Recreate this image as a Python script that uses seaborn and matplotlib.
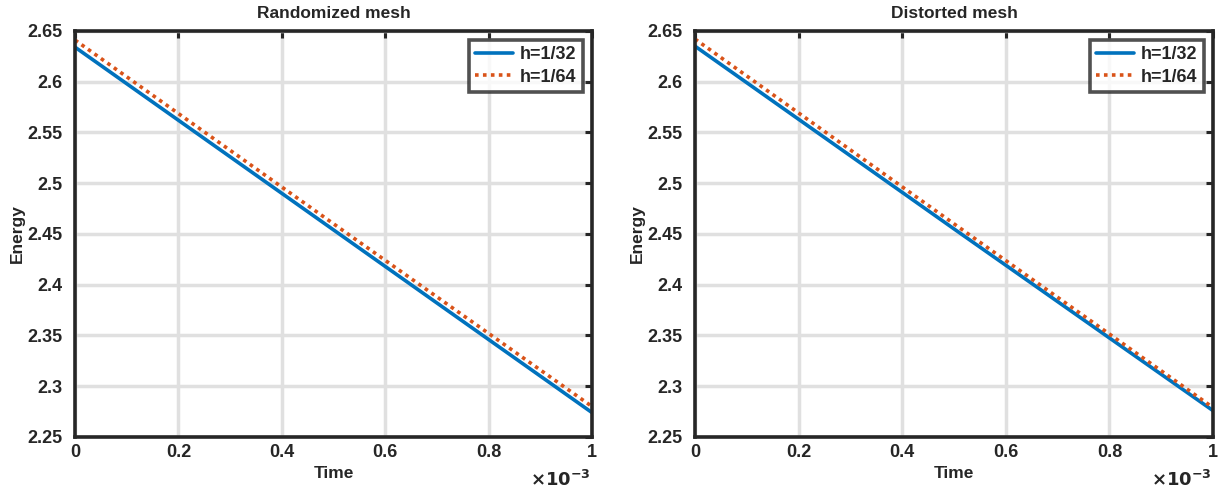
import numpy as np
import pandas as pd
import matplotlib
matplotlib.use("Agg")
import matplotlib.pyplot as plt
import seaborn as sns
from matplotlib.ticker import FuncFormatter, MultipleLocator

# values
time = [0.0, 0.5e-3, 1.0e-3]
rand_h32 = [2.634, 2.454, 2.274]
rand_h64 = [2.641, 2.460, 2.280]
dist_h32 = [2.635, 2.455, 2.276]
dist_h64 = [2.642, 2.460, 2.279]
titles = ["Randomized mesh", "Distorted mesh"]
labels = ["h=1/32", "h=1/64"]

sns.set_style("white")
plt.rcParams["font.family"] = ["Liberation Sans", "DejaVu Sans"]
plt.rcParams["font.weight"] = "bold"
plt.rcParams["axes.labelweight"] = "bold"
plt.rcParams["axes.titleweight"] = "bold"

fig = plt.figure(figsize=(12.24, 4.91), dpi=100)
ax1 = fig.add_axes([0.0613, 0.110, 0.4224, 0.827])
ax2 = fig.add_axes([0.5678, 0.110, 0.4232, 0.827])

blue = "#0072BD"
orange = "#D95319"

for ax, title, y32, y64 in [(ax1, titles[0], rand_h32, rand_h64),
                            (ax2, titles[1], dist_h32, dist_h64)]:
    df = pd.DataFrame({"Time": time * 2,
                       "Energy": y32 + y64,
                       "mesh": [labels[0]] * len(time) + [labels[1]] * len(time)})
    sns.lineplot(data=df[df.mesh == labels[0]], x="Time", y="Energy", ax=ax,
                 color=blue, linewidth=2.6, label=labels[0])
    sns.lineplot(data=df[df.mesh == labels[1]], x="Time", y="Energy", ax=ax,
                 color=orange, linewidth=2.6, linestyle=(0, (1, 1.2)), label=labels[1])

    ax.set_xlim(0, 1e-3)
    ax.set_ylim(2.25, 2.65)
    ax.xaxis.set_major_locator(MultipleLocator(0.2e-3))
    ax.yaxis.set_major_locator(MultipleLocator(0.05))
    ax.xaxis.set_major_formatter(FuncFormatter(lambda v, p: "%g" % round(v * 1e3, 6)))
    ax.yaxis.set_major_formatter(FuncFormatter(lambda v, p: "%g" % round(v, 6)))
    ax.grid(True, color="#e0e0e0", linewidth=2.5)
    ax.set_axisbelow(True)
    for s in ax.spines.values():
        s.set_visible(True)
        s.set_color("#262626")
        s.set_linewidth(2.6)
    ax.tick_params(direction="in", top=True, right=True, length=5, width=2.2,
                   labelsize=13, colors="#262626")
    ax.tick_params(axis="x", pad=5)
    ax.tick_params(axis="y", pad=9)
    for t in ax.get_xticklabels() + ax.get_yticklabels():
        t.set_fontweight("bold")
    ax.set_title(title, fontsize=12.5, fontweight="bold", pad=9)
    ax.set_xlabel("Time", fontsize=12.5, fontweight="bold", labelpad=4)
    ax.set_ylabel("Energy", fontsize=12.5, fontweight="bold", labelpad=2)
    ax.text(0.998, -0.105, r"$\times\mathbf{10}^{\mathbf{-3}}$", transform=ax.transAxes,
            ha="right", va="center", fontsize=13, color="#262626")
    leg = ax.legend(loc="upper right", fontsize=13, frameon=True, fancybox=False,
                    borderpad=0.35, handlelength=2.1, handletextpad=0.4,
                    labelspacing=0.3, borderaxespad=0.5)
    leg.get_frame().set_edgecolor("#262626")
    leg.get_frame().set_linewidth(2.6)
    for t in leg.get_texts():
        t.set_fontweight("bold")

fig.savefig("out.png", dpi=100)
